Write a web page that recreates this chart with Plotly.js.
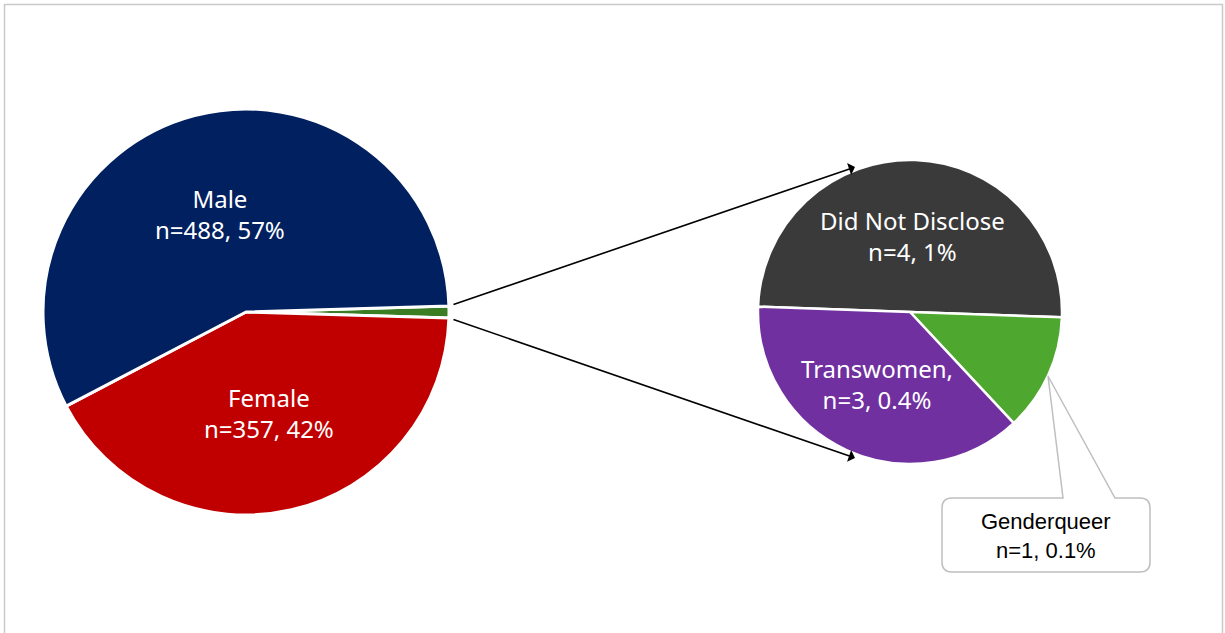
<!DOCTYPE html>
<html>
<head>
<meta charset="utf-8">
<script src="https://cdn.plot.ly/plotly-3.0.1.min.js"></script>
<style>html,body{margin:0;padding:0;background:#fff;}#chart{width:1225px;height:633px;}</style>
</head>
<body>
<div id="chart"></div>
<script>
// ---- data ----
const mainLabels = ['Other', 'Female', 'Male'];
const mainCounts = [null, 357, 488];          // 'Other' = sum of breakdown below
const mainPercents = ['', '42%', '57%'];

const subLabels = ['Did Not Disclose', 'Genderqueer', 'Transwomen,'];
const subCounts = [4, 1, 3];
const subPercents = ['1%', '0.1%', '0.4%'];

// ---- build ----
const W = 1225, H = 633;
const otherTotal = subCounts.reduce((a, b) => a + b, 0);
const mainValues = mainCounts.map(v => v === null ? otherTotal : v);
const mainTotal = mainValues.reduce((a, b) => a + b, 0);

const mainText = mainLabels.map((l, i) => i === 0 ? '' : l + '<br>n=' + mainValues[i] + ', ' + mainPercents[i]);
const subText = subLabels.map((l, i) => l + '<br>n=' + subCounts[i] + ', ' + subPercents[i]);

function px(x) { return x / W; }
function py(y) { return 1 - y / H; }

const mainGeom = {cx: 246, cy: 312, r: 203, rotation: 90 - (otherTotal / mainTotal * 360) / 2};
const subGeom = {cx: 910, cy: 312, r: 152, rotation: -88};

const labelFont = {family: 'Noto Sans, Open Sans, sans-serif', size: 24, color: '#ffffff'};

// label positions derived from slice angles (same rule as plotly's inscribed-circle placement)
function sliceLabels(values, texts, geom, show) {
  const total = values.reduce((a, b) => a + b, 0);
  let a = geom.rotation;
  const out = [];
  values.forEach((v, i) => {
    const span = v / total * 360;
    const mid = (a + span / 2) * Math.PI / 180;
    const half = span / 2 * Math.PI / 180;
    const rIns = Math.min(1 / (1 + 1 / Math.sin(Math.min(half, Math.PI / 2))), 0.5);
    const d = geom.r * (1 - rIns);
    if (show[i]) {
      out.push({xref: 'paper', yref: 'paper',
        x: px(geom.cx + d * Math.sin(mid)), y: py(geom.cy - d * Math.cos(mid)),
        xanchor: 'center', yanchor: 'middle', showarrow: false,
        text: texts[i], font: labelFont});
    }
    a += span;
  });
  return out;
}

const mainTrace = {
  type: 'pie',
  labels: mainLabels,
  values: mainValues,
  textinfo: 'none',
  sort: false,
  direction: 'clockwise',
  rotation: mainGeom.rotation,
  marker: {colors: ['#3B7D23', '#C00000', '#002060'], line: {color: '#ffffff', width: 3}},
  domain: {x: [px(mainGeom.cx - mainGeom.r), px(mainGeom.cx + mainGeom.r)],
           y: [py(mainGeom.cy + mainGeom.r), py(mainGeom.cy - mainGeom.r)]},
  hoverinfo: 'label+value',
  showlegend: false
};

const subTrace = {
  type: 'pie',
  labels: subLabels,
  values: subCounts,
  textinfo: 'none',
  sort: false,
  direction: 'clockwise',
  rotation: subGeom.rotation,
  marker: {colors: ['#3A3A3A', '#4EA72E', '#7030A0'], line: {color: '#ffffff', width: 2.5}},
  domain: {x: [px(subGeom.cx - subGeom.r), px(subGeom.cx + subGeom.r)],
           y: [py(subGeom.cy + subGeom.r), py(subGeom.cy - subGeom.r)]},
  hoverinfo: 'label+value',
  showlegend: false
};

// callout path (rounded box with wedge pointing at the Genderqueer slice)
function calloutPath() {
  const x0 = 942, x1 = 1150, y0 = 498, y1 = 572, r = 10;
  const wL = 1063, wR = 1115, tipX = 1048, tipY = 376;
  const P = (x, y) => px(x).toFixed(5) + ',' + py(y).toFixed(5);
  return 'M' + P(x0 + r, y0) + ' L' + P(wL, y0) + ' L' + P(tipX, tipY) + ' L' + P(wR, y0) +
    ' L' + P(x1 - r, y0) + ' Q' + P(x1, y0) + ' ' + P(x1, y0 + r) +
    ' L' + P(x1, y1 - r) + ' Q' + P(x1, y1) + ' ' + P(x1 - r, y1) +
    ' L' + P(x0 + r, y1) + ' Q' + P(x0, y1) + ' ' + P(x0, y1 - r) +
    ' L' + P(x0, y0 + r) + ' Q' + P(x0, y0) + ' ' + P(x0 + r, y0) + ' Z';
}

const annotations = []
  .concat(sliceLabels(mainValues, mainText, mainGeom, [false, true, true]))
  .concat(sliceLabels(subCounts, subText, subGeom, [true, false, true]))
  .concat([
    {xref: 'paper', yref: 'paper', x: px(855), y: py(167), ax: 452 - 855, ay: 305 - 167,
     text: '', showarrow: true, arrowhead: 1, arrowsize: 1.3, arrowwidth: 1.6, arrowcolor: '#000000', standoff: 0},
    {xref: 'paper', yref: 'paper', x: px(855), y: py(458), ax: 452 - 855, ay: 319 - 458,
     text: '', showarrow: true, arrowhead: 1, arrowsize: 1.3, arrowwidth: 1.6, arrowcolor: '#000000', standoff: 0},
    {xref: 'paper', yref: 'paper', x: px(1046), y: py(536), xanchor: 'center', yanchor: 'middle',
     text: subLabels[1] + '<br>n=' + subCounts[1] + ', ' + subPercents[1], showarrow: false,
     font: {family: 'Liberation Sans, Arial, sans-serif', size: 22, color: '#000000'}}
  ]);

const layout = {
  width: W, height: H,
  margin: {l: 0, r: 0, t: 0, b: 0},
  paper_bgcolor: '#ffffff',
  plot_bgcolor: '#ffffff',
  showlegend: false,
  shapes: [
    {type: 'rect', xref: 'paper', yref: 'paper', x0: px(4.5), x1: px(1222.5), y0: -0.05, y1: py(4.5),
     line: {color: '#CACACA', width: 1.5}, fillcolor: 'rgba(0,0,0,0)', layer: 'below'},
    {type: 'path', xref: 'paper', yref: 'paper', path: calloutPath(),
     line: {color: '#BFBFBF', width: 1.5}, fillcolor: '#ffffff', layer: 'above'}
  ],
  annotations: annotations
};

Plotly.newPlot('chart', [mainTrace, subTrace], layout, {displayModeBar: false, staticPlot: true});
</script>
</body>
</html>
